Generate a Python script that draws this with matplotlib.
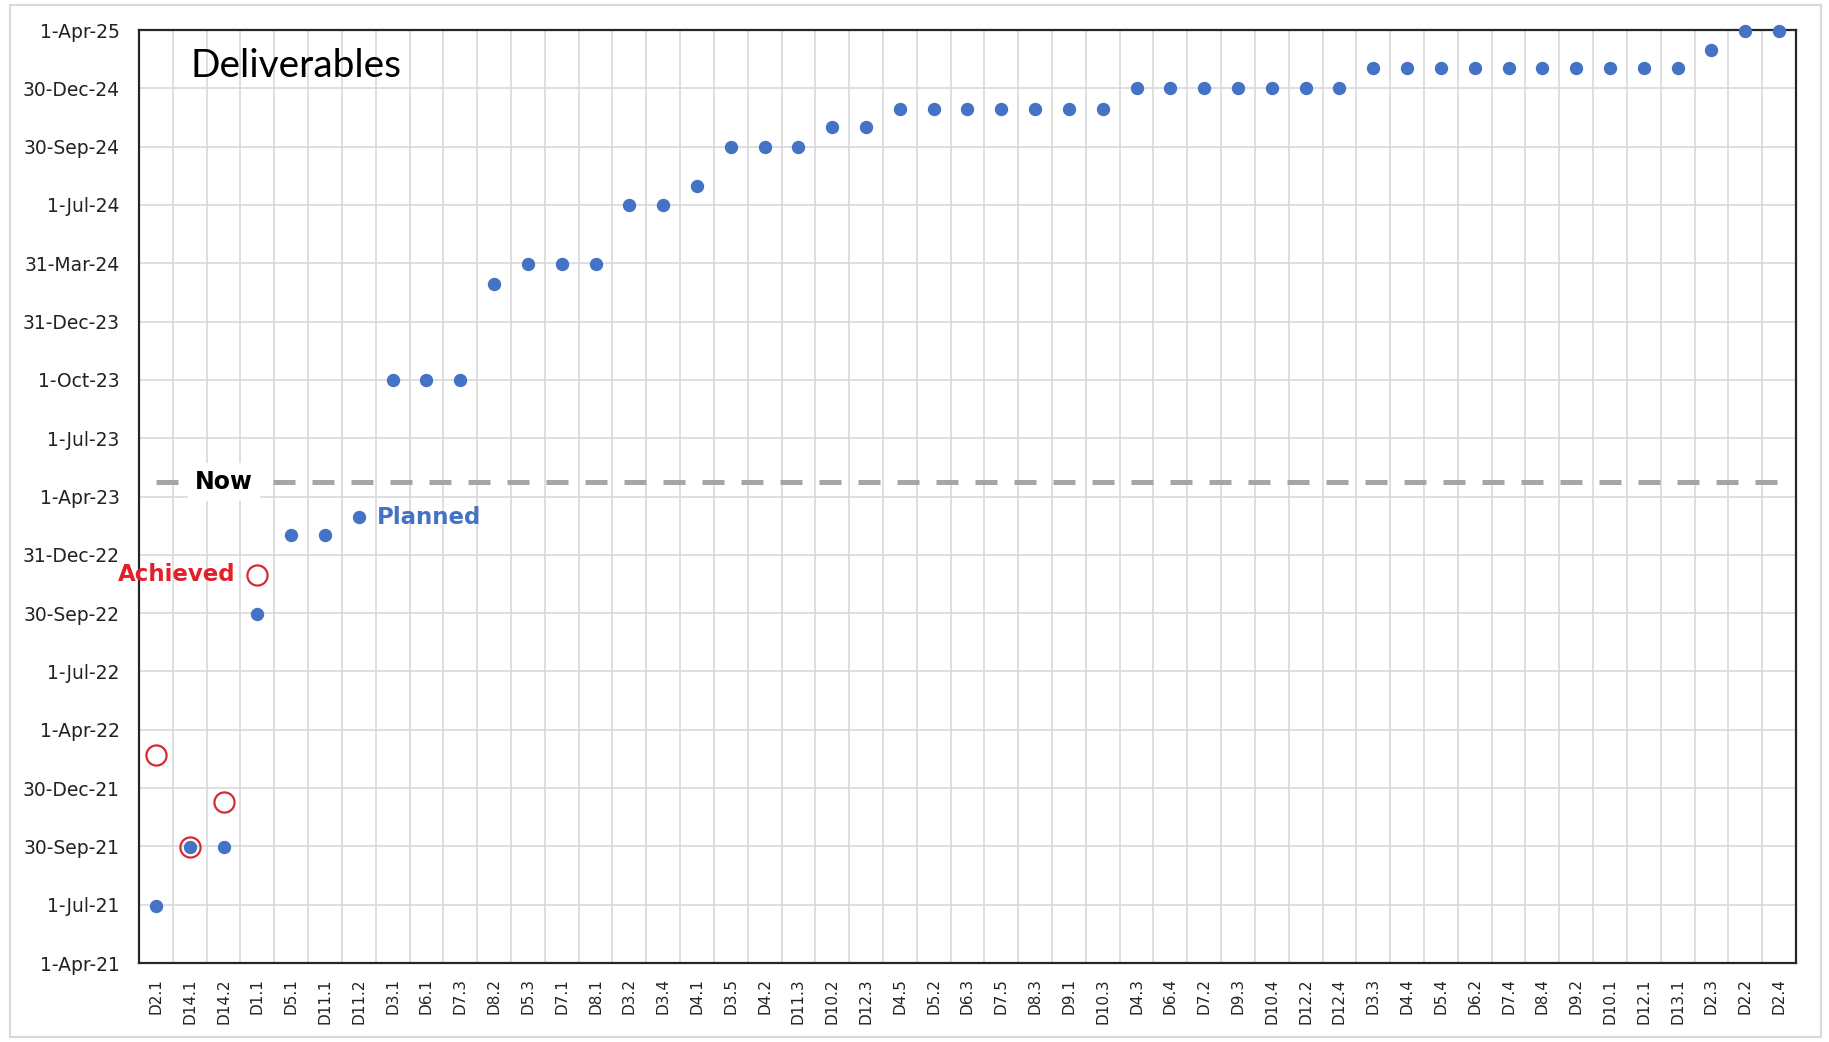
import matplotlib
matplotlib.use('Agg')
import matplotlib.pyplot as plt
import matplotlib.dates as mdates
from matplotlib.patches import Rectangle
import numpy as np
import pandas as pd

deliverables = ['D2.1', 'D14.1', 'D14.2', 'D1.1', 'D5.1', 'D11.1', 'D11.2', 'D3.1', 'D6.1', 'D7.3',
                'D8.2', 'D5.3', 'D7.1', 'D8.1', 'D3.2', 'D3.4', 'D4.1', 'D3.5', 'D4.2', 'D11.3',
                'D10.2', 'D12.3', 'D4.5', 'D5.2', 'D6.3', 'D7.5', 'D8.3', 'D9.1', 'D10.3', 'D4.3',
                'D6.4', 'D7.2', 'D9.3', 'D10.4', 'D12.2', 'D12.4', 'D3.3', 'D4.4', 'D5.4', 'D6.2',
                'D7.4', 'D8.4', 'D9.2', 'D10.1', 'D12.1', 'D13.1', 'D2.3', 'D2.2', 'D2.4']

planned = ['2021-06-30', '2021-09-30', '2021-09-30', '2022-09-30', '2023-01-31', '2023-01-31',
           '2023-02-28', '2023-10-01', '2023-10-01', '2023-10-01', '2024-02-29', '2024-03-31',
           '2024-03-31', '2024-03-31', '2024-07-01', '2024-07-01', '2024-07-31', '2024-09-30',
           '2024-09-30', '2024-09-30', '2024-10-31', '2024-10-31', '2024-11-29', '2024-11-29',
           '2024-11-29', '2024-11-29', '2024-11-29', '2024-11-29', '2024-11-29', '2024-12-31',
           '2024-12-31', '2024-12-31', '2024-12-31', '2024-12-31', '2024-12-31', '2024-12-31',
           '2025-01-31', '2025-01-31', '2025-01-31', '2025-01-31', '2025-01-31', '2025-01-31',
           '2025-01-31', '2025-01-31', '2025-01-31', '2025-01-31', '2025-02-28', '2025-03-31',
           '2025-03-31']

# only the first four have been delivered so far
achieved_idx = [0, 1, 2, 3]
achieved = ['2022-02-20', '2021-09-30', '2021-12-09', '2022-11-30']

now_date = '2023-04-24'

ytick_labels = ['1-Apr-21', '1-Jul-21', '30-Sep-21', '30-Dec-21', '1-Apr-22', '1-Jul-22',
                '30-Sep-22', '31-Dec-22', '1-Apr-23', '1-Jul-23', '1-Oct-23', '31-Dec-23',
                '31-Mar-24', '1-Jul-24', '30-Sep-24', '30-Dec-24', '1-Apr-25']

BLUE = '#4472C4'
RED = '#E3202A'


def to_num(dates):
    return mdates.date2num(pd.to_datetime(dates))


def main():
    x = np.arange(len(deliverables))
    y_plan = to_num(planned)
    y_done = to_num(achieved)
    y_now = np.full(len(x), to_num([now_date])[0])

    fig = plt.figure(figsize=(18.29, 10.42), dpi=100)
    fig.patches.append(Rectangle((10 / 1829, 5 / 1042), 1811 / 1829, 1032 / 1042,
                                 transform=fig.transFigure, fill=False,
                                 edgecolor='#D9D9D9', lw=1.5))
    ax = fig.add_axes([139 / 1829, 1 - 963 / 1042, 1657 / 1829, 933 / 1042])

    ymin, ymax = to_num(['2021-04-01', '2025-04-01'])
    ax.set_ylim(ymin, ymax)
    ax.set_xlim(-0.5, len(x) - 0.5)
    ax.set_yticks(np.linspace(ymin, ymax, len(ytick_labels)), ytick_labels)
    ax.set_xticks(x, deliverables, rotation=90)
    ax.set_xticks(x[:-1] + 0.5, minor=True)

    ax.grid(axis='y', which='major', color='#D9D9D9', lw=1.2)
    ax.grid(axis='x', which='minor', color='#D9D9D9', lw=1.2)
    ax.set_axisbelow(True)
    ax.tick_params(which='both', length=0)
    ax.tick_params(axis='y', pad=14, labelsize=13.5, colors='#222222')
    ax.tick_params(axis='x', pad=11, labelsize=11, colors='#222222')
    for s in ax.spines.values():
        s.set_color('#262626')
        s.set_linewidth(1.6)

    # "now" marker line
    ax.plot(x, y_now, color='#A6A6A6', lw=3.6, ls=(0, (4.4, 3.4)), zorder=2)
    ax.annotate('Now', (x[2], y_now[2]), ha='center', va='center',
                fontsize=17, fontweight='bold', color='black',
                bbox=dict(boxstyle='square,pad=0.3', fc='white', ec='none'), zorder=3)

    ax.plot(x, y_plan, 'o', color=BLUE, ms=8.6, ls='none', clip_on=False, zorder=4)
    ax.plot(x[achieved_idx], y_done, 'o', mfc='none', mec='#D62A33', mew=1.6,
            ms=14.5, ls='none', clip_on=False, zorder=5)

    ax.annotate('Planned', (x[6], y_plan[6]), xytext=(13, 0), textcoords='offset points',
                ha='left', va='center', fontsize=16.5, fontweight='bold', color=BLUE)
    ax.annotate('Achieved', (x[3], y_done[3]), xytext=(-16, 0), textcoords='offset points',
                ha='right', va='center', fontsize=16.5, fontweight='bold', color=RED)

    ax.text(0.031, 0.961, 'Deliverables', transform=ax.transAxes, ha='left', va='center',
            fontsize=28, family='Lato', color='black')

    fig.savefig('out.png', dpi=100)


if __name__ == '__main__':
    main()
